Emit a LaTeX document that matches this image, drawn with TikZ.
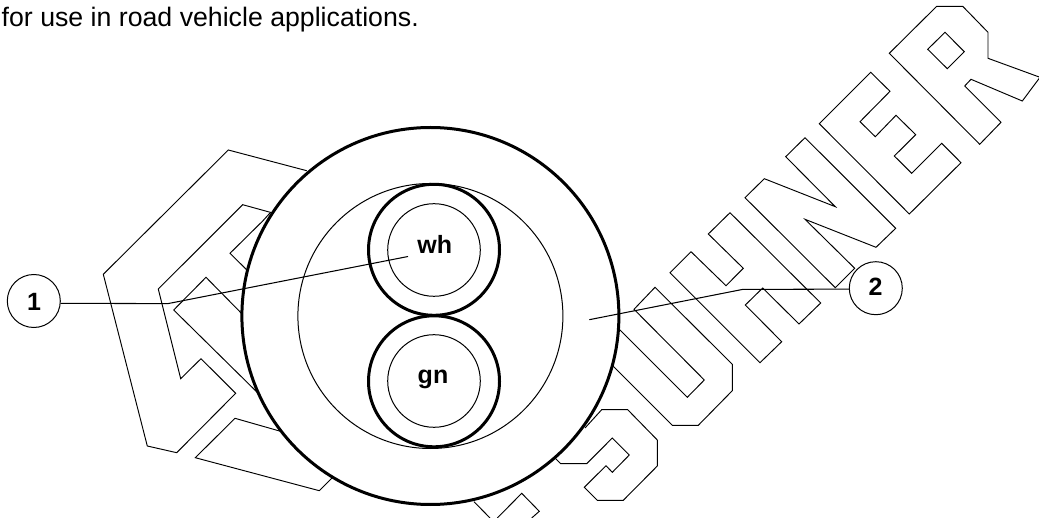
\documentclass[tikz,border=0pt]{standalone}
\usepackage{fontspec}
\setmainfont{Liberation Sans}
\tikzset{
  logo/.style={draw=black, line width=0.95pt, line join=miter},
  thinring/.style={circle, draw=black, line width=1pt, inner sep=0pt},
  thickring/.style={circle, draw=black, line width=3pt, inner sep=0pt},
  leader/.style={draw=black, line width=1.05pt},
  callout/.style={circle, draw=black, line width=1pt, minimum size=53pt, inner sep=0pt, fill=white},
  wirelabel/.style={font=\fontsize{25}{25}\selectfont\bfseries, inner sep=0pt, anchor=base}
}
\begin{document}
\begin{tikzpicture}[x=1pt,y=-1pt]
\useasboundingbox (0,0) rectangle (1039,518);
% caption
\node[anchor=base west, inner sep=0pt, font=\fontsize{26.7}{26.7}\selectfont] (caption) at (1.5,27) {for use in road vehicle applications.};
% logo outlines
\draw[logo] (306.7,170.7) -- (228.3,150) -- (103.3,274.3) -- (147.3,446) -- (176.7,452.7) -- (235.7,393.3) -- (201,358.7) -- (180.7,378.7) -- (158.3,289) -- (242.7,204.7) -- (280,215);
\draw[logo] (270,213) -- (262.7,221) -- (230,253.3) -- (255,278);
\draw[logo] (250,322) -- (206,277.3) -- (173.7,310) -- (264,399);
\draw[logo] (290,434) -- (235,418.3) -- (195.3,457.7) -- (319.3,490.7) -- (335,475);
\draw[logo] (474,501.7) -- (490,518);
\draw[logo] (497.3,518) -- (521.7,493.3) -- (539.3,511.3) -- (531.7,518);
\draw[logo] (585,428) -- (601.7,409.7) -- (627.7,409.7) -- (657.3,440) -- (657.3,466) -- (623.3,500.3) -- (597.3,500.3) -- (584.3,487.3) -- (606,465.7) -- (612.3,472.3) -- (629.3,455) -- (612.3,438) -- (586.7,463.7) -- (560.7,463.7) -- (550,453);
\draw[logo] (605,315) -- (687.3,397.3) -- (704.3,380) -- (634,309.3) -- (655,287.3) -- (732.3,364.3) -- (732.3,390.7) -- (698.3,425.3) -- (672.3,425.3) -- (600,353);
\draw[logo] (670,272.7) -- (691,251.7) -- (726,285.7) -- (743.3,268.3) -- (708.3,234) -- (730,212.7) -- (820.7,303) -- (799,324) -- (762.7,288) -- (745.3,305) -- (781.7,341.7) -- (760,362.7) -- cycle;
\draw[logo] (745,197.7) -- (764.3,178.7) -- (835.3,206.7) -- (785.7,156.7) -- (805,137.7) -- (895.7,228.3) -- (876,247.3) -- (805,219.3) -- (854.7,268.3) -- (835.3,287.7) -- cycle;
\draw[logo] (819.3,123.7) -- (870.7,72.3) -- (890,91.3) -- (860,121.7) -- (875.3,136.7) -- (896,115.3) -- (915.7,134.7) -- (894.3,156) -- (911.7,173.3) -- (941.7,143.3) -- (961,162.7) -- (909.3,214) -- cycle;
\draw[logo] (889.3,53.3) -- (936.7,6.3) -- (962.7,6.3) -- (988,32.3) -- (988,58.3) -- (1040,77.3) -- (1022.3,101) -- (971,79.3) -- (964.7,86) -- (1001,122.3) -- (979.7,144.3) -- cycle;
\draw[logo] (945,32.3) -- (964.3,51.7) -- (947.3,68.7) -- (927.7,49.3) -- cycle;
% cable
\node[thickring, fill=white, minimum size=377pt] (jacket) at (430.4,316) {};
\node[thinring, minimum size=265pt] (filler) at (430.4,316) {};
\node[thickring, minimum size=131pt] (wireW) at (434,249.8) {};
\node[thinring, minimum size=92.6pt] (coreW) at (434,250) {};
\node[thickring, minimum size=131pt] (wireG) at (434,381.3) {};
\node[thinring, minimum size=92.6pt] (coreG) at (434,381) {};
\node[wirelabel] (wh) at (434.7,253.3) {wh};
\node[wirelabel] (gn) at (433,383.3) {gn};
% callouts
\node[callout] (c1) at (33.8,301) {};
\node[callout] (c2) at (875.8,288.2) {};
\node[wirelabel] (n1) at (34,310.5) {1};
\node[wirelabel] (n2) at (875.5,295.7) {2};
\coordinate (k1) at (168,303.6);
\coordinate (e1) at (408,256.5);
\coordinate (k2) at (742.7,289.4);
\coordinate (e2) at (589.3,319.7);
\draw[leader] (c1.-5) -- (k1) -- (e1);
\draw[leader] (c2.182) -- (k2) -- (e2);
\end{tikzpicture}
\end{document}
